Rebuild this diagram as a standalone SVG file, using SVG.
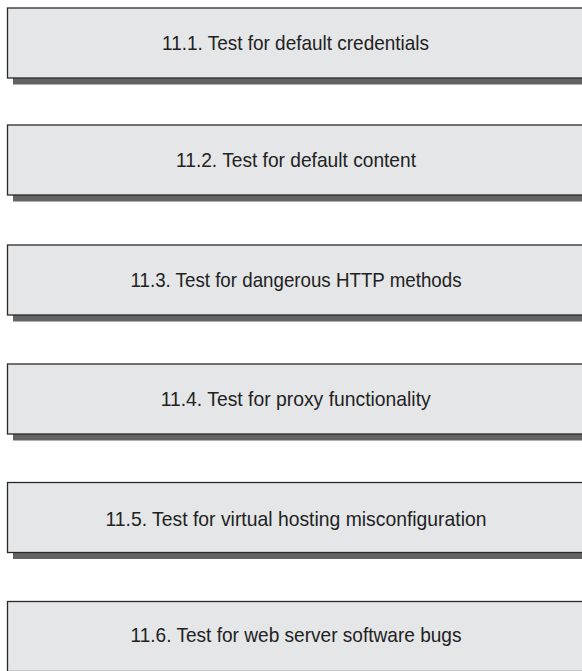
<svg xmlns="http://www.w3.org/2000/svg" width="582" height="671" viewBox="0 0 582 671">
<style>
.box{fill:#e5e6e8;stroke:#2a2a2a;stroke-width:1.3}
.sh{fill:#636363}
.t{font-family:"Liberation Sans",Arial,sans-serif;font-size:21px;fill:#222;text-anchor:middle}
</style>
<rect width="582" height="671" fill="#fff"/>
<g id="n1">
<rect class="sh" x="13" y="78" width="575" height="6.5"/>
<rect class="box" x="7.5" y="8" width="580" height="70"/>
<text class="t" x="295.5" y="50" textLength="267" lengthAdjust="spacingAndGlyphs">11.1. Test for default credentials</text>
</g>
<g id="n2">
<rect class="sh" x="13" y="195" width="575" height="6.5"/>
<rect class="box" x="7.5" y="125" width="580" height="70"/>
<text class="t" x="296" y="167" textLength="240" lengthAdjust="spacingAndGlyphs">11.2. Test for default content</text>
</g>
<g id="n3">
<rect class="sh" x="13" y="315" width="575" height="6.5"/>
<rect class="box" x="7.5" y="245" width="580" height="70"/>
<text class="t" x="296" y="287" textLength="331" lengthAdjust="spacingAndGlyphs">11.3. Test for dangerous HTTP methods</text>
</g>
<g id="n4">
<rect class="sh" x="13" y="434" width="575" height="6.5"/>
<rect class="box" x="7.5" y="364" width="580" height="70"/>
<text class="t" x="295.7" y="406" textLength="270" lengthAdjust="spacingAndGlyphs">11.4. Test for proxy functionality</text>
</g>
<g id="n5">
<rect class="sh" x="13" y="552.5" width="575" height="6.5"/>
<rect class="box" x="7.5" y="482.5" width="580" height="70"/>
<text class="t" x="296" y="526" textLength="381" lengthAdjust="spacingAndGlyphs">11.5. Test for virtual hosting misconfiguration</text>
</g>
<g id="n6">
<rect class="sh" x="13" y="671.5" width="575" height="6.5"/>
<rect class="box" x="7.5" y="601.5" width="580" height="70"/>
<text class="t" x="296" y="642" textLength="331" lengthAdjust="spacingAndGlyphs">11.6. Test for web server software bugs</text>
</g>
<g id="connectors"/>
</svg>
